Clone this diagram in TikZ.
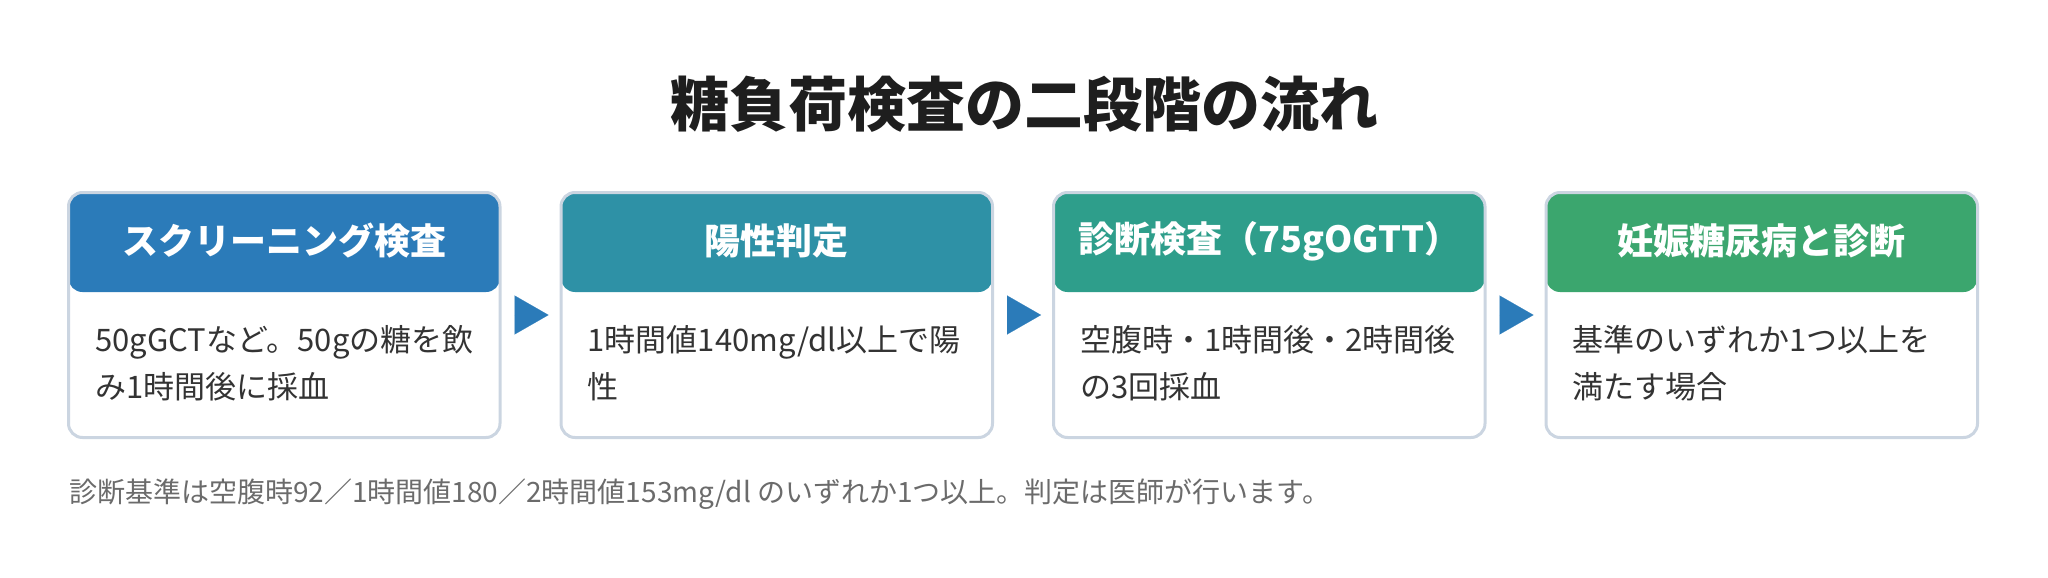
\documentclass[tikz,border=0pt]{standalone}
\usepackage{fontspec}
\setmainfont{Noto Sans CJK JP}
\usetikzlibrary{positioning,arrows.meta}

\definecolor{cardline}{HTML}{CBD5E1}
\definecolor{hdblue}{HTML}{2B7BB9}
\definecolor{hdteal}{HTML}{2E91A6}
\definecolor{hdsea}{HTML}{2E9E8B}
\definecolor{hdgreen}{HTML}{3BA66E}
\definecolor{bodytext}{HTML}{333333}
\definecolor{notetext}{HTML}{6B6B6B}
\definecolor{titletext}{HTML}{1E1E1E}

\begin{document}
\begin{tikzpicture}[
    x=1pt, y=-1pt,
    card/.style={draw=cardline, line width=3pt, rounded corners=14pt, fill=white,
        minimum width=431.5pt, minimum height=245pt, inner sep=0pt,
        path picture={\fill[#1] (path picture bounding box.north west)
            rectangle ([yshift=-99.5pt]path picture bounding box.north east);}},
    head/.style={text=white, font=\fontsize{36}{43}\selectfont\bfseries},
    body/.style={text=bodytext, font=\fontsize{31}{47}\selectfont, align=left,
        anchor=north west, inner sep=0pt},
    flow/.style={draw=hdblue, fill=hdblue, line width=0.1pt,
        -{Triangle[length=34pt,width=39pt]}, shorten <=13pt, shorten >=11pt}
]
\useasboundingbox (0,0) rectangle (2048,578);

% Title
\node[text=titletext, font=\fontsize{59}{70}\selectfont\bfseries] (title) at (1024,104) {糖負荷検査の二段階の流れ};

% Define cards
\node[card=hdblue] (s1) at (284.25,315) {};
\node[card=hdteal] (s2) at (776.75,315) {};
\node[card=hdsea] (s3) at (1269.25,315) {};
\node[card=hdgreen] (s4) at (1761.75,315) {};

% Card headers
\node[head] (h1) at ([yshift=-50pt]s1.north) {スクリーニング検査};
\node[head] (h2) at ([yshift=-50pt]s2.north) {陽性判定};
\node[head] (h3) at ([yshift=-50pt]s3.north) {診断検査（75gOGTT）};
\node[head] (h4) at ([yshift=-50pt]s4.north) {妊娠糖尿病と診断};

% Card texts
\node[body] (b1) at ([xshift=28pt,yshift=-134pt]s1.north west) {50gGCTなど。50gの糖を飲\\み1時間後に採血};
\node[body] (b2) at ([xshift=28pt,yshift=-134pt]s2.north west) {1時間値140mg/dl以上で陽\\性};
\node[body] (b3) at ([xshift=28pt,yshift=-134pt]s3.north west) {空腹時・1時間後・2時間後\\の3回採血};
\node[body] (b4) at ([xshift=28pt,yshift=-134pt]s4.north west) {基準のいずれか1つ以上を\\満たす場合};

% Draw arrows
\foreach \u/\v in {s1/s2, s2/s3, s3/s4} {
    \draw[flow] (\u) -- (\v);
}

% Note
\node[text=notetext, font=\fontsize{28}{34}\selectfont, anchor=west, inner sep=0pt] (note) at (69,494) {診断基準は空腹時92／1時間値180／2時間値153mg/dl のいずれか1つ以上。判定は医師が行います。};

\end{tikzpicture}
\end{document}
